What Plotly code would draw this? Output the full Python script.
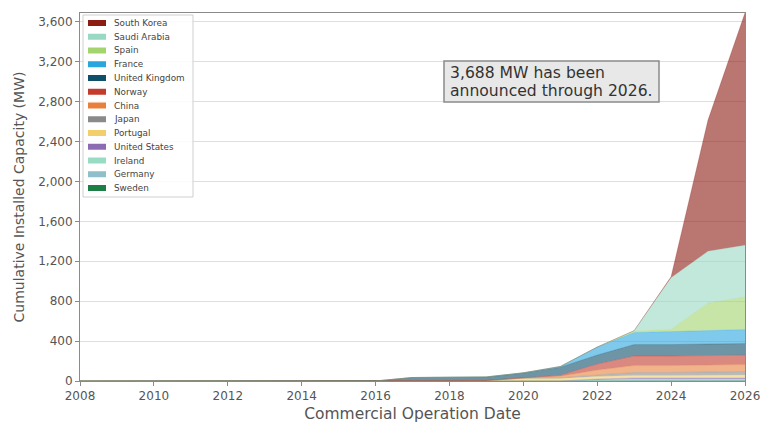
import plotly.graph_objects as go

# Commercial operation years
years = list(range(2008, 2027))

# Cumulative installed capacity (MW) by country, 2008-2026
pad = [0] * 8  # 2008-2015
sweden = pad + [0, 0, 0, 0, 0, 0, 2, 3, 3, 3, 3]
germany = pad + [0, 0, 0, 0, 0, 0, 5, 7, 7, 7, 7]
ireland = pad + [0, 0, 0, 0, 0, 0, 3, 8, 8, 8, 8]
united_states = pad + [0, 0, 0, 0, 0, 0, 10, 12, 12, 12, 12]
portugal = pad + [0, 0, 0, 0, 25, 25, 25, 25, 25, 30, 30]
japan = pad + [0, 3, 3, 5, 5, 8, 15, 30, 30, 30, 35]
china = pad + [0, 0, 0, 0, 0, 15, 50, 70, 70, 70, 70]
norway = pad + [0, 2, 2, 2, 2, 10, 60, 95, 95, 95, 95]
united_kingdom = pad + [0, 30, 32, 32, 48, 80, 90, 115, 115, 115, 115]
france = pad + [0, 0, 2, 2, 2, 7, 80, 120, 130, 135, 140]
spain = pad + [0, 0, 0, 0, 0, 0, 0, 15, 20, 275, 325]
saudi_arabia = pad + [0, 0, 0, 0, 0, 0, 0, 5, 520, 520, 520]
south_korea = pad + [0, 0, 0, 0, 0, 0, 0, 0, 10, 1315, 2328]

# Stacking order, bottom to top
countries = ["Sweden", "Germany", "Ireland", "United States", "Portugal", "Japan",
             "China", "Norway", "United Kingdom", "France", "Spain",
             "Saudi Arabia", "South Korea"]
series = [sweden, germany, ireland, united_states, portugal, japan, china,
          norway, united_kingdom, france, spain, saudi_arabia, south_korea]
colors = ["#1d7f45", "#8fbfca", "#98dcc3", "#8b6cb3", "#f2cf6a", "#8a8a8a",
          "#e8803a", "#c23b2c", "#0e4f6a", "#2aa6df", "#a3d46e",
          "#99d9c4", "#8c1c13"]

yticks = list(range(0, 3601, 400))
xticks = list(range(2008, 2027, 2))

total = sum(s[-1] for s in series)

FONT = "DejaVu Sans"
W, H = 760, 423
ML, MR, MT, MB = 80, 15, 13, 42


def hex_rgba(h, a):
    h = h.lstrip("#")
    r, g, b = int(h[0:2], 16), int(h[2:4], 16), int(h[4:6], 16)
    return f"rgba({r},{g},{b},{a})"


def px(x):
    return (x - ML) / (W - ML - MR)


def py(y):
    return (H - MB - y) / (H - MT - MB)


fig = go.Figure()
for name, vals, c in zip(countries, series, colors):
    fig.add_trace(go.Scatter(
        x=years, y=vals, name=name, mode="lines", stackgroup="one",
        line=dict(width=0.5, color=hex_rgba(c, 0.55)),
        fillcolor=hex_rgba(c, 0.6), showlegend=False,
    ))

# Hand-drawn legend box (top to bottom: last stacked layer first)
shapes = [dict(type="rect", xref="paper", yref="paper",
               x0=px(83), x1=px(193), y0=py(197), y1=py(15),
               line=dict(color="#cfcfcf", width=1), fillcolor="rgba(255,255,255,0.85)",
               layer="above")]
annotations = []
row0, step = 23, 13.75
for i, (name, c) in enumerate(zip(countries[::-1], colors[::-1])):
    yc = row0 + i * step
    shapes.append(dict(type="rect", xref="paper", yref="paper",
                       x0=px(88), x1=px(106), y0=py(yc + 3), y1=py(yc - 3),
                       line=dict(width=0), fillcolor=c, layer="above"))
    annotations.append(dict(xref="paper", yref="paper", x=px(112), y=py(yc),
                            xanchor="left", yanchor="middle", showarrow=False,
                            text=name, font=dict(family=FONT, size=8.8, color="#444")))

# Callout box with the 2026 total
shapes.append(dict(type="rect", xref="paper", yref="paper",
                   x0=px(444), x1=px(659), y0=py(102), y1=py(61),
                   line=dict(color="#8a8a8a", width=1.5), fillcolor="#e8e8e8",
                   layer="above"))
for text, yc in ((f"{total:,} MW has been", 73),
                 (f"announced through {years[-1]}.", 91)):
    annotations.append(dict(
        xref="paper", yref="paper", x=px(448), y=py(yc), xanchor="left",
        yanchor="middle", showarrow=False, text=text,
        font=dict(family=FONT, size=15.6, color="#333"),
    ))

fig.update_layout(
    width=W, height=H,
    margin=dict(l=ML, r=MR, t=MT, b=MB),
    paper_bgcolor="white", plot_bgcolor="white",
    font=dict(family=FONT, color="#555"),
    shapes=shapes, annotations=annotations,
    xaxis=dict(range=[years[0] - 1e-4, years[-1] + 1e-4], tickvals=xticks,
               showgrid=False, automargin=False, ticklabeloverflow="allow",
               zeroline=False, showline=True, mirror=True, linecolor="#8a8a8a",
               linewidth=1, ticks="outside", ticklen=4, tickcolor="#8a8a8a",
               tickfont=dict(size=12, color="#555"),
               title=dict(text="Commercial Operation Date", standoff=5,
                          font=dict(size=15.5, color="#555"))),
    yaxis=dict(range=[0, total], tickvals=yticks, tickformat=",", showgrid=True,
               automargin=False,
               gridcolor="#dedede", gridwidth=1, zeroline=False, showline=True,
               mirror=True, linecolor="#8a8a8a", linewidth=1, ticks="outside",
               ticklen=4, tickcolor="#8a8a8a",
               tickfont=dict(size=12, color="#555"),
               title=dict(text="Cumulative Installed Capacity (MW)", standoff=10,
                          font=dict(size=14, color="#555"))),
)

fig.write_html("out.html")
